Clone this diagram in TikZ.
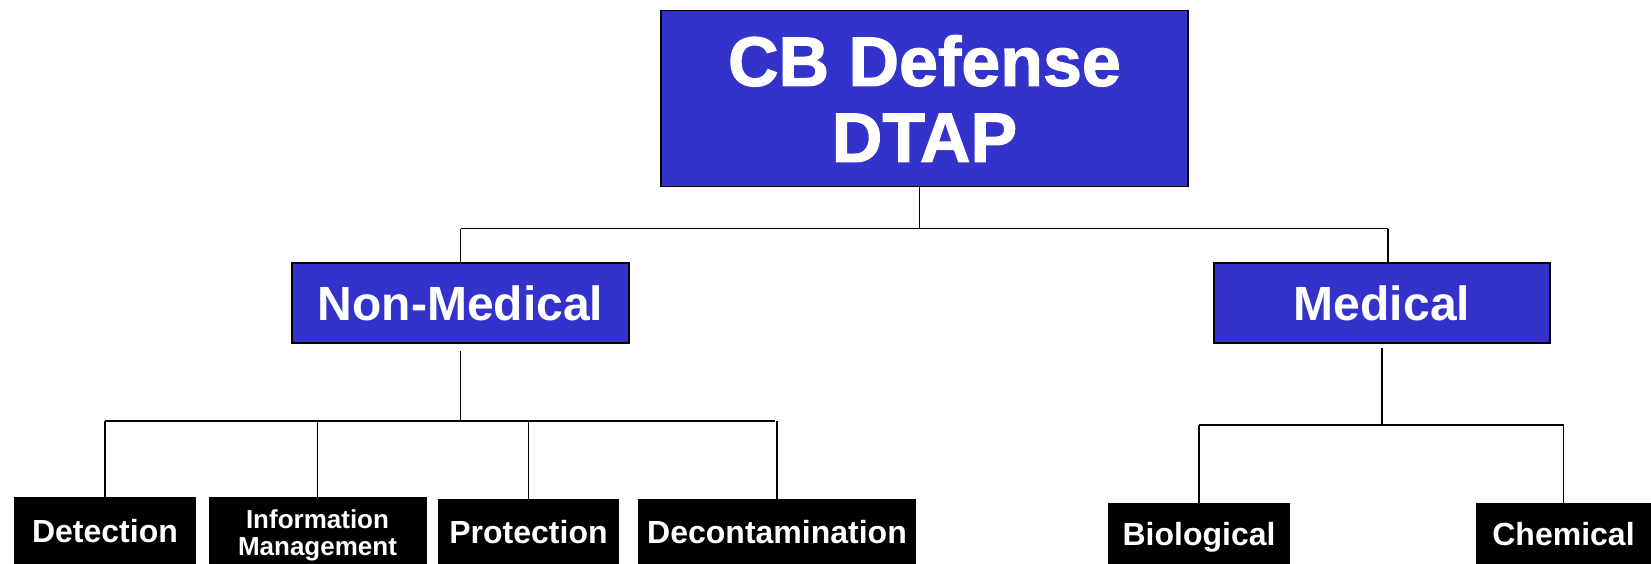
\documentclass[tikz,border=0pt]{standalone}
\usepackage{fontspec}
\setmainfont{Liberation Sans}
\newfontfamily\heavyfont[UprightFont={* Bold},FakeBold=1.6]{Liberation Sans}
\definecolor{dtapblue}{RGB}{51,51,204}
\begin{document}
\begin{tikzpicture}[x=1pt,y=-1pt,
    bluebox/.style={draw=black,line width=1.8pt,fill=dtapblue,text=white,inner sep=0pt,align=center},
    blackbox/.style={fill=black,text=white,inner sep=0pt,text depth=0pt,font=\bfseries\fontsize{32}{34}\selectfont},
    link/.style={line width=1.5pt}]
\useasboundingbox (0,0) rectangle (1651,564);
% boxes
\node[bluebox,minimum width=527pt,minimum height=176pt,font=\heavyfont\fontsize{70}{76}\selectfont] (top) at (924.5,98.5) {CB Defense\\DTAP};
\node[bluebox,minimum width=337pt,minimum height=80pt,font=\bfseries\fontsize{48}{54}\selectfont] (nonmed) at (460.5,303) {Non-Medical};
\node[bluebox,minimum width=336pt,minimum height=80pt,font=\bfseries\fontsize{48}{54}\selectfont] (med) at (1382,303) {Medical};
\node[blackbox,minimum width=182pt,minimum height=67pt] (det) at (105,530.5) {Detection};
\node[blackbox,minimum width=218pt,minimum height=67pt,text depth=,align=center,font=\bfseries\fontsize{26}{27}\selectfont] (info) at (317.5,530.5) {\rule{0pt}{29pt}Information\\Management};
\node[blackbox,minimum width=181pt,minimum height=65pt] (prot) at (528.5,531.5) {Protection};
\node[blackbox,minimum width=278pt,minimum height=65pt] (decon) at (777,531.5) {Decontamination};
\node[blackbox,minimum width=182pt,minimum height=61pt] (bio) at (1199,533.5) {Biological};
\node[blackbox,minimum width=175pt,minimum height=61pt] (chem) at (1563.5,533.5) {Chemical};
% connectors
\coordinate (busa) at (0,228.5);
\coordinate (busb) at (0,421);
\coordinate (busc) at (0,425);
\draw[link] ([xshift=-5pt]top.south) -- ([xshift=-5pt]top.south |- busa);
\draw[link] (nonmed.north |- busa) -- ([xshift=6pt]med.north |- busa);
\draw[link] (nonmed.north |- busa) -- (nonmed.north);
\draw[link] ([xshift=6pt]med.north |- busa) -- ([xshift=6pt]med.north);
\draw[link] ([yshift=-7pt]nonmed.south) -- (nonmed.south |- busb);
\draw[link] (det.north |- busb) -- ([xshift=-2pt]decon.north |- busb);
\foreach \n in {det,info,prot,decon}
  \draw[link] (\n.north |- busb) -- (\n.north);
\draw[link] ([yshift=-4pt]med.south) -- (med.south |- busc);
\draw[link] (bio.north |- busc) -- (chem.north |- busc);
\foreach \n in {bio,chem}
  \draw[link] (\n.north |- busc) -- (\n.north);
\end{tikzpicture}
\end{document}
